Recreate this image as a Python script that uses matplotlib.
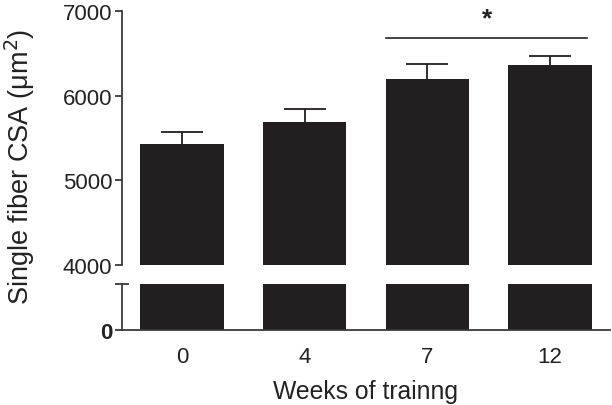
import matplotlib.pyplot as plt
import numpy as np

plt.rcParams['font.family'] = ['Liberation Sans', 'DejaVu Sans']

# 数据
weeks = ['0', '4', '7', '12']
csa_mean = [5430, 5690, 6200, 6365]
csa_sem = [140, 150, 170, 110]

BAR_COLOR = '#231f20'
AXIS_COLOR = '#3a3a3a'
TEXT_COLOR = '#222222'

fig = plt.figure(figsize=(6.12, 4.06), dpi=100)
ax_top = fig.add_axes([0.199, 0.345, 0.798, 0.625])
ax_bot = fig.add_axes([0.199, 0.1835, 0.798, 0.1155])

x = np.arange(len(weeks))
width = 0.68

for ax in (ax_top, ax_bot):
    ax.bar(x, csa_mean, width=width, color=BAR_COLOR, zorder=2)
    ax.set_xlim(-0.49, 3.49)
    for side in ('top', 'right'):
        ax.spines[side].set_visible(False)
    ax.spines['left'].set_color(AXIS_COLOR)
    ax.spines['left'].set_linewidth(1.3)
    ax.tick_params(colors=AXIS_COLOR, labelcolor=TEXT_COLOR, labelsize=16,
                   width=1.3, length=5, pad=2)

# 上半部分 (只画向上的误差线)
_, caps, _ = ax_top.errorbar(x, csa_mean, yerr=[np.zeros(len(x)), csa_sem], fmt='none',
                             ecolor=BAR_COLOR, elinewidth=1.3, capsize=15,
                             capthick=1.3, zorder=3)
caps[0].set_visible(False)
ax_top.set_ylim(4000, 7000)
ax_top.set_yticks([4000, 5000, 6000, 7000])
ax_top.spines['bottom'].set_visible(False)
ax_top.tick_params(axis='x', bottom=False, labelbottom=False)

# 显著性标记
ax_top.plot([1.66, 3.30], [6680, 6680], color=TEXT_COLOR, lw=1.2, clip_on=False)
ax_top.text(2.49, 6915, '*', ha='center', va='center', fontsize=19,
            fontweight='bold', color=TEXT_COLOR)

# 下半部分
ax_bot.set_ylim(0, 1000)
ax_bot.set_yticks([0])
ax_bot.set_yticklabels(['0'], fontweight='bold')
ax_bot.spines['bottom'].set_color(AXIS_COLOR)
ax_bot.spines['bottom'].set_linewidth(1.3)
ax_bot.set_xticks(x)
ax_bot.set_xticklabels(weeks)
ax_bot.tick_params(axis='x', bottom=False, pad=6)
ax_bot.plot([0], [1], marker='_', markersize=10, mew=1.3, color=AXIS_COLOR,
            transform=ax_bot.transAxes, clip_on=False)

ax_bot.set_xlabel('Weeks of trainng', fontsize=17.8, color=TEXT_COLOR, labelpad=9)
fig.text(0.032, 0.589, 'Single fiber CSA (\u03bcm$^2$)', rotation=90,
         ha='center', va='center', fontsize=19.5, color=TEXT_COLOR)

fig.savefig('out.png', dpi=100)
